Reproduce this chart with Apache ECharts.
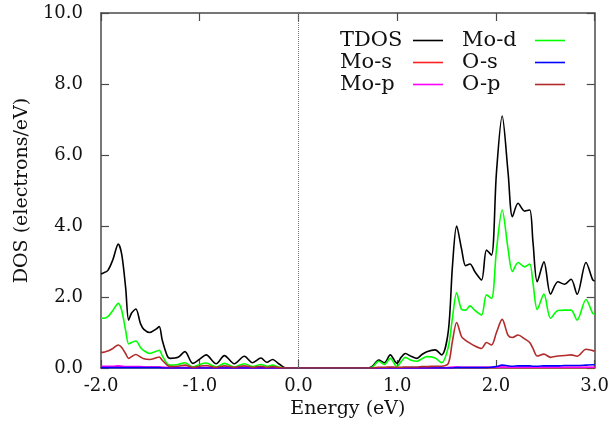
<!DOCTYPE html>
<html>
<head>
<meta charset="utf-8">
<script src="https://cdn.jsdelivr.net/npm/echarts@6/dist/echarts.min.js"></script>
<style>
  html, body { margin: 0; padding: 0; background: #fff; }
  #chart { width: 612px; height: 436px; }
</style>
</head>
<body>
<div id="chart"></div>
<script>
// energy grid (eV), shared by every series
const energy = [
  -2.0, -1.98, -1.93, -1.88, -1.825, -1.79, -1.75, -1.72, -1.69, -1.647,
  -1.6, -1.566, -1.506, -1.44, -1.41, -1.38, -1.33, -1.30, -1.22, -1.15,
  -1.07, -1.0, -0.935, -0.834, -0.75, -0.65, -0.548, -0.465, -0.38, -0.32,
  -0.262, -0.2, -0.128,
  0.0, 0.7,
  0.75, 0.8125, 0.87, 0.93, 0.997, 1.04, 1.082, 1.14, 1.2, 1.25,
  1.30, 1.384, 1.45, 1.518, 1.559, 1.602, 1.652, 1.693, 1.737, 1.787,
  1.854, 1.904, 1.955, 2.005, 2.063, 2.123, 2.167, 2.224, 2.291, 2.342,
  2.375, 2.418, 2.486, 2.553, 2.627, 2.694, 2.761, 2.822, 2.912, 2.98,
  3.0
]

const tdos = [
  2.65, 2.67, 2.75, 3.05, 3.49, 3.2, 2.25, 1.35, 1.55, 1.66,
  1.25, 1.09, 1.0, 1.1, 1.17, 0.79, 0.35, 0.27, 0.30, 0.46,
  0.13, 0.25, 0.37, 0.12, 0.35, 0.12, 0.33, 0.15, 0.28, 0.16,
  0.24, 0.12, 0.0,
  0.0, 0.0,
  0.05, 0.225, 0.15, 0.37, 0.13, 0.30, 0.41, 0.33, 0.27, 0.38,
  0.46, 0.51, 0.37, 1.05, 2.85, 4.0, 3.35, 2.88, 2.93, 2.71,
  2.48, 3.32, 3.18, 5.5, 7.10, 5.5, 4.26, 4.64, 4.42, 4.45,
  3.55, 2.43, 2.99, 2.08, 2.43, 2.36, 2.50, 2.08, 2.97, 2.48,
  2.45
]

const moS = [
  0.03, 0.03, 0.03, 0.03, 0.04, 0.03, 0.02, 0.02, 0.02, 0.02,
  0.02, 0.02, 0.02, 0.02, 0.02, 0.01, 0.01, 0.0, 0.0, 0.01,
  0.0, 0.0, 0.01, 0.0, 0.0, 0.0, 0.0, 0.0, 0.0, 0.0,
  0.0, 0.0, 0.0,
  0.0, 0.0,
  0.0, 0.0, 0.0, 0.0, 0.0, 0.0, 0.0, 0.0, 0.0, 0.0,
  0.0, 0.0, 0.0, 0.01, 0.01, 0.02, 0.01, 0.01, 0.01, 0.01,
  0.01, 0.01, 0.01, 0.01, 0.02, 0.01, 0.01, 0.01, 0.01, 0.01,
  0.01, 0.01, 0.01, 0.01, 0.01, 0.01, 0.01, 0.01, 0.01, 0.01,
  0.01
]

const moP = [
  0.05, 0.05, 0.05, 0.05, 0.06, 0.05, 0.04, 0.04, 0.04, 0.04,
  0.04, 0.03, 0.03, 0.03, 0.03, 0.02, 0.01, 0.01, 0.01, 0.01,
  0.0, 0.01, 0.01, 0.0, 0.01, 0.0, 0.01, 0.0, 0.0, 0.0,
  0.0, 0.0, 0.0,
  0.0, 0.0,
  0.0, 0.0, 0.0, 0.0, 0.0, 0.0, 0.0, 0.0, 0.0, 0.0,
  0.0, 0.0, 0.0, 0.01, 0.02, 0.03, 0.02, 0.02, 0.02, 0.02,
  0.02, 0.02, 0.02, 0.02, 0.03, 0.02, 0.02, 0.02, 0.02, 0.02,
  0.02, 0.02, 0.02, 0.02, 0.02, 0.02, 0.02, 0.02, 0.02, 0.02,
  0.02
]

const moD = [
  1.40, 1.40, 1.45, 1.62, 1.82, 1.62, 1.05, 0.68, 0.72, 0.76,
  0.58, 0.49, 0.41, 0.47, 0.50, 0.35, 0.12, 0.08, 0.10, 0.15,
  0.03, 0.10, 0.14, 0.03, 0.13, 0.03, 0.12, 0.04, 0.10, 0.05,
  0.08, 0.03, 0.0,
  0.0, 0.0,
  0.03, 0.19, 0.10, 0.27, 0.04, 0.18, 0.30, 0.22, 0.19, 0.26,
  0.32, 0.28, 0.15, 0.60, 1.40, 2.12, 1.65, 1.63, 1.75, 1.62,
  1.49, 2.06, 1.96, 3.32, 4.45, 3.35, 2.72, 2.97, 2.85, 2.93,
  2.4, 1.65, 2.08, 1.40, 1.62, 1.63, 1.63, 1.35, 1.93, 1.54,
  1.52
]

const oS = [
  0.01, 0.01, 0.01, 0.01, 0.01, 0.01, 0.01, 0.01, 0.01, 0.01,
  0.01, 0.01, 0.01, 0.01, 0.01, 0.0, 0.0, 0.0, 0.0, 0.0,
  0.0, 0.0, 0.0, 0.0, 0.0, 0.0, 0.0, 0.0, 0.0, 0.0,
  0.0, 0.0, 0.0,
  0.0, 0.0,
  0.0, 0.0, 0.0, 0.0, 0.0, 0.0, 0.0, 0.0, 0.0, 0.0,
  0.0, 0.0, 0.0, 0.0, 0.0, 0.01, 0.01, 0.01, 0.01, 0.01,
  0.01, 0.01, 0.02, 0.04, 0.08, 0.06, 0.05, 0.06, 0.06, 0.06,
  0.05, 0.05, 0.06, 0.06, 0.06, 0.07, 0.07, 0.07, 0.08, 0.09,
  0.09
]

const oP = [
  0.44, 0.44, 0.48, 0.55, 0.65, 0.58, 0.40, 0.27, 0.32, 0.38,
  0.31, 0.26, 0.24, 0.29, 0.31, 0.22, 0.08, 0.04, 0.05, 0.08,
  0.02, 0.05, 0.07, 0.02, 0.06, 0.02, 0.06, 0.02, 0.05, 0.02,
  0.04, 0.01, 0.0,
  0.0, 0.0,
  0.0, 0.02, 0.02, 0.03, 0.02, 0.02, 0.03, 0.03, 0.03, 0.04,
  0.04, 0.05, 0.05, 0.13, 0.75, 1.28, 0.88, 0.78, 0.70, 0.62,
  0.55, 0.72, 0.65, 1.0, 1.37, 0.92, 0.86, 0.93, 0.82, 0.72,
  0.55, 0.34, 0.39, 0.30, 0.34, 0.35, 0.37, 0.33, 0.53, 0.49,
  0.48
]

const seriesNames = ['TDOS', 'Mo-s', 'Mo-p', 'Mo-d', 'O-s', 'O-p']
const seriesValues = [tdos, moS, moP, moD, oS, oP]
const seriesColors = ['#000000', '#ff2020', '#ff00ff', '#00ff00', '#0000ff', '#b22a2a']

const font = 'DejaVu Serif'
const frameColor = '#4a4a4a'

const chart = echarts.init(document.getElementById('chart'))

const frameAxis = {
  axisLine: { show: true, onZero: false, lineStyle: { color: frameColor, width: 1.5 } },
  axisTick: { show: true, inside: true, length: 8, lineStyle: { color: frameColor, width: 1.2 } },
  splitLine: { show: false }
}

const series = seriesNames.map((name, k) => ({
  name: name,
  type: 'line',
  smooth: 0.3,
  showSymbol: false,
  symbol: 'none',
  lineStyle: { color: seriesColors[k], width: 1.6 },
  itemStyle: { color: seriesColors[k] },
  data: energy.map((e, i) => [e, seriesValues[k][i]])
}))

// Fermi level
series[0].markLine = {
  silent: true,
  symbol: ['none', 'none'],
  label: { show: false },
  lineStyle: { color: '#777', type: 'dotted', width: 1 },
  data: [{ xAxis: 0 }]
}

const legendText = {
  fontFamily: font,
  fontSize: 21,
  color: '#111',
  rich: { t: { width: 68, align: 'left', fontFamily: font, fontSize: 21, lineHeight: 22 } }
}

const legendBase = {
  orient: 'vertical',
  top: 30,
  align: 'right',
  icon: 'rect',
  itemWidth: 30,
  itemHeight: 1.6,
  itemGap: 1,
  padding: 0,
  selectedMode: false,
  formatter: name => '{t|' + name + '}',
  textStyle: legendText
}

chart.setOption({
  animation: false,
  backgroundColor: '#fff',
  grid: { left: 101, right: 15, top: 13, bottom: 68 },
  legend: [
    Object.assign({}, legendBase, { left: 340, data: ['TDOS', 'Mo-s', 'Mo-p'] }),
    Object.assign({}, legendBase, { left: 462, data: ['Mo-d', 'O-s', 'O-p'] })
  ],
  xAxis: [
    Object.assign({}, frameAxis, {
      type: 'value', min: -2, max: 3, interval: 1, position: 'bottom',
      name: 'Energy (eV)', nameLocation: 'middle', nameGap: 26,
      nameTextStyle: { fontFamily: font, fontSize: 19, color: '#111' },
      axisLabel: { fontFamily: font, fontSize: 18, color: '#111', margin: 9, formatter: v => v.toFixed(1) }
    }),
    Object.assign({}, frameAxis, {
      type: 'value', min: -2, max: 3, interval: 1, position: 'top',
      axisLabel: { show: false }
    })
  ],
  yAxis: [
    Object.assign({}, frameAxis, {
      type: 'value', min: 0, max: 10, interval: 2, position: 'left',
      name: 'DOS (electrons/eV)', nameLocation: 'middle', nameGap: 64,
      nameTextStyle: { fontFamily: font, fontSize: 19, color: '#111' },
      axisLabel: { fontFamily: font, fontSize: 18, color: '#111', margin: 18, formatter: v => v.toFixed(1) }
    }),
    Object.assign({}, frameAxis, {
      type: 'value', min: 0, max: 10, interval: 2, position: 'right',
      axisLabel: { show: false }
    })
  ],
  series: series
})
</script>
</body>
</html>
